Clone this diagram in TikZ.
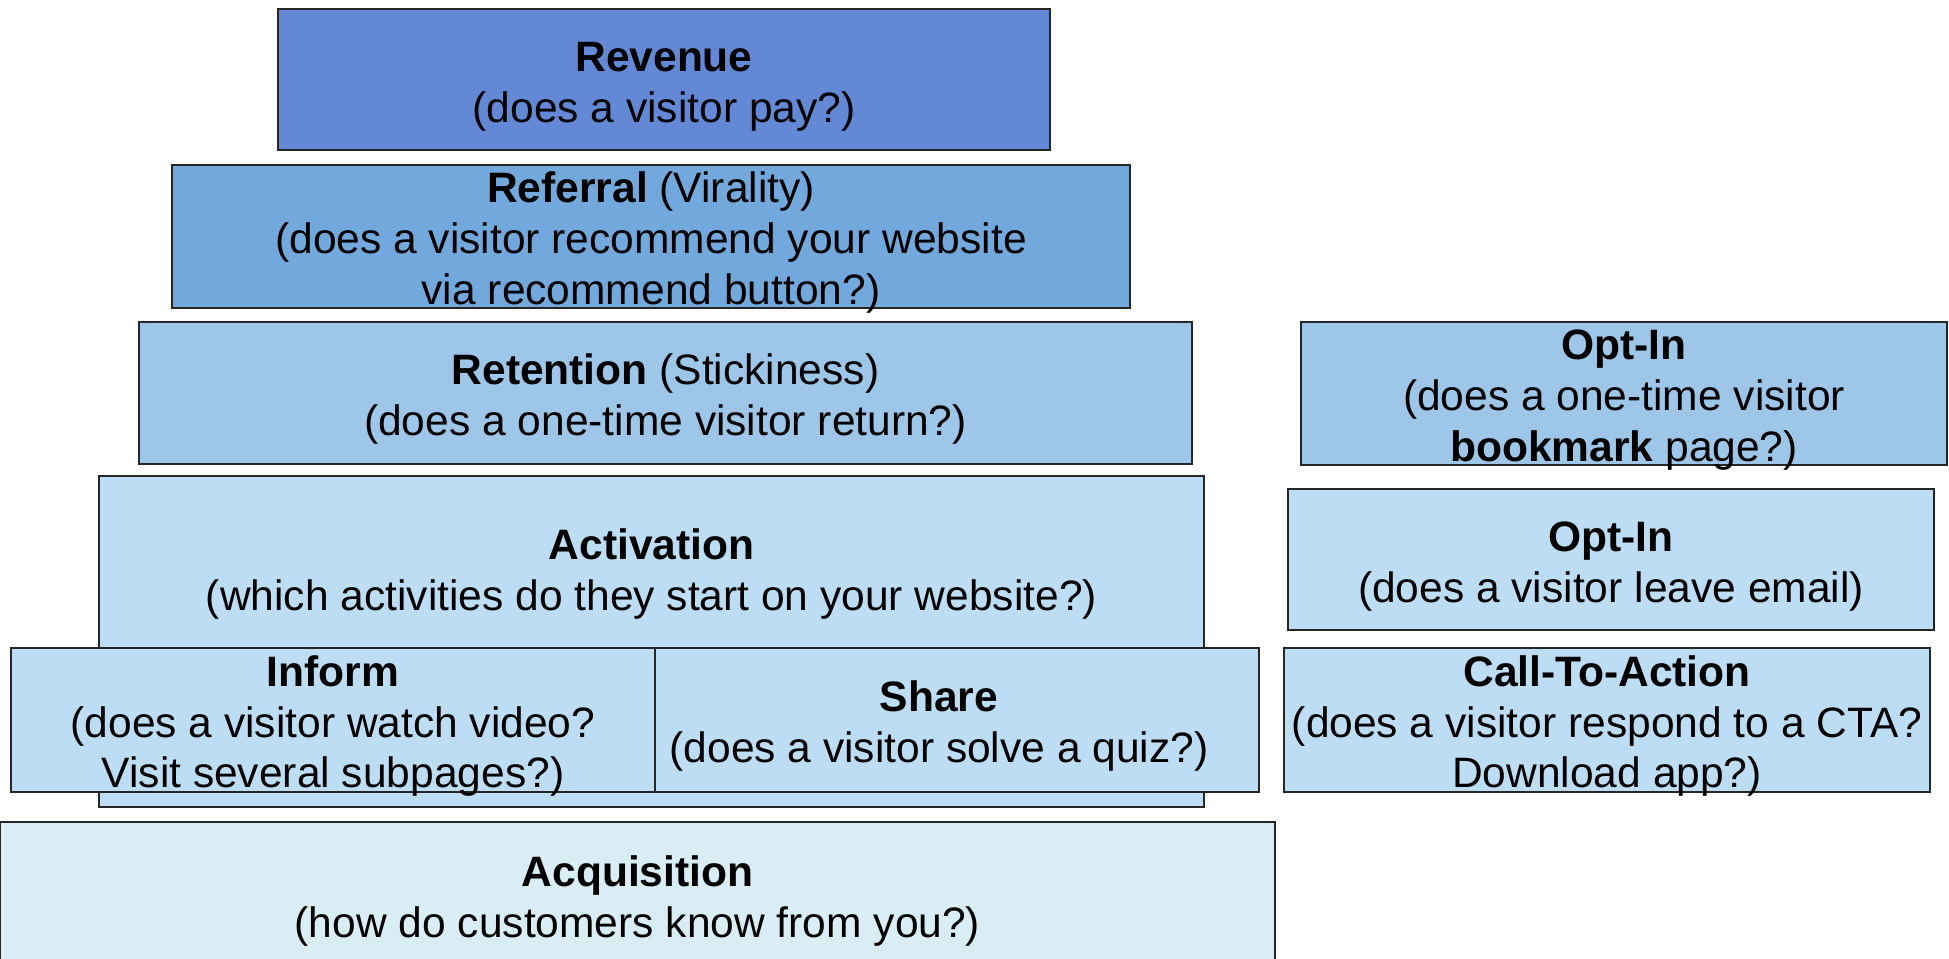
\documentclass[tikz,border=0pt]{standalone}
\usepackage{fontspec}
\setmainfont{Liberation Sans}
\usepackage{tikz}

\definecolor{revcol}{HTML}{6389D6}
\definecolor{refcol}{HTML}{72A8DC}
\definecolor{retcol}{HTML}{9DC6E9}
\definecolor{actcol}{HTML}{BDDDF4}
\definecolor{acqcol}{HTML}{D9EDF4}
\newcommand{\hdstrut}{\rule{0pt}{12.2pt}}

\begin{document}
\begin{tikzpicture}[
    box/.style={draw=black!85, line width=0.5pt, inner xsep=0pt, inner ysep=-3pt, align=center,
        font=\fontsize{12.1}{14.5}\selectfont},
    txt/.style={inner sep=0pt, align=center, font=\fontsize{12.1}{14.5}\selectfont},
    ]
\useasboundingbox (0,0) rectangle (19.49,9.58);
    % funnel, bottom to top
    \node[box, fill=acqcol, minimum width=12.75cm, minimum height=1.46cm] (acq) at (6.375,0.63)
        {\hdstrut\textbf{Acquisition}\\(how do customers know from you?)};
    \node[box, fill=actcol, minimum width=11.05cm, minimum height=3.31cm] (act) at (6.515,3.165) {};
    \coordinate (A) at (6.515,3.84);
    \node[txt] (act-t) at (A) {\textbf{Activation}\\(which activities do they start on your website?)};
    \node[box, fill=actcol, minimum width=6.44cm, minimum height=1.44cm] (inf) at (3.33,2.38)
        {\hdstrut\textbf{Inform}\\(does a visitor watch video?\\Visit several subpages?)};
    \node[box, fill=actcol, minimum width=6.04cm, minimum height=1.44cm] (shr) at (9.57,2.38)
        {\hdstrut\textbf{Share}\hspace*{0.36cm}\\(does a visitor solve a quiz?)\hspace*{0.36cm}};
    \node[box, fill=retcol, minimum width=10.53cm, minimum height=1.42cm] (ret) at (6.655,5.65)
        {\hdstrut\textbf{Retention} (Stickiness)\\(does a one-time visitor return?)};
    \node[box, fill=refcol, minimum width=9.58cm, minimum height=1.43cm] (ref) at (6.51,7.215)
        {\hdstrut\textbf{Referral} (Virality)\\(does a visitor recommend your website\\via recommend button?)};
    \node[box, fill=revcol, minimum width=7.72cm, minimum height=1.41cm] (rev) at (6.64,8.785)
        {\hdstrut\textbf{Revenue}\\(does a visitor pay?)};
    % side column
    \node[box, fill=retcol, minimum width=6.46cm, minimum height=1.43cm] (opt1) at (16.24,5.645)
        {\hdstrut\textbf{Opt-In}\\(does a one-time visitor\\\textbf{bookmark} page?)};
    \node[box, fill=actcol, minimum width=6.46cm, minimum height=1.41cm] (opt2) at (16.11,3.985)
        {\hdstrut\textbf{Opt-In}\\(does a visitor leave email)};
    \node[box, fill=actcol, minimum width=6.46cm, minimum height=1.44cm] (cta) at (16.07,2.38)
        {\hdstrut\textbf{Call-To-Action}\\(does a visitor respond to a CTA?\\Download app?)};
\end{tikzpicture}
\end{document}
